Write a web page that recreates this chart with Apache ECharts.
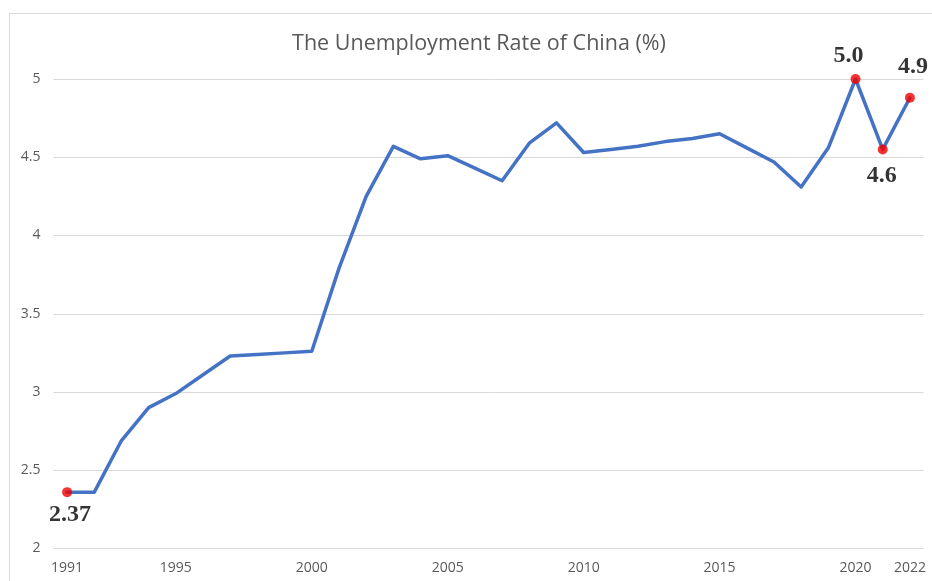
<!DOCTYPE html>
<html>
<head>
<meta charset="utf-8">
<script src="https://cdn.jsdelivr.net/npm/echarts@6/dist/echarts.min.js"></script>
<style>
  html, body { margin: 0; padding: 0; background: #ffffff; }
  #chart { width: 932px; height: 581px; }
</style>
</head>
<body>
<div id="chart"></div>
<script>
// ---- data ----
const years = ['1991','1992','1993','1994','1995','1996','1997','1998','1999','2000',
               '2001','2002','2003','2004','2005','2006','2007','2008','2009','2010',
               '2011','2012','2013','2014','2015','2016','2017','2018','2019','2020',
               '2021','2022'];
const rates = [2.36, 2.36, 2.69, 2.90, 2.99, 3.11, 3.23, 3.24, 3.25, 3.26,
               3.79, 4.25, 4.57, 4.49, 4.51, 4.43, 4.35, 4.59, 4.72, 4.53,
               4.55, 4.57, 4.60, 4.62, 4.65, 4.56, 4.47, 4.31, 4.56, 5.00,
               4.55, 4.88];
const tickYears = ['1991','1995','2000','2005','2010','2015','2020','2022'];
const highlightYears = ['1991','2020','2021','2022'];
const highlightLabels = ['2.37','5.0','4.6','4.9'];
const titleText = 'The Unemployment Rate of China (%)';

// ---- label placement (style) ----
const labelPlacement = {
  '1991': { position: 'bottom', distance: 6, offset: [3, 0] },
  '2020': { position: 'top', distance: 6, offset: [-7, 0] },
  '2021': { position: 'bottom', distance: 9, offset: [-1, 0] },
  '2022': { position: 'top', distance: 14, offset: [3, 0] }
};

const highlightData = highlightYears.map((y, i) => {
  const idx = years.indexOf(y);
  const p = labelPlacement[y];
  return {
    value: [y, rates[idx]],
    label: {
      show: true,
      formatter: highlightLabels[i],
      position: p.position,
      distance: p.distance,
      offset: p.offset
    }
  };
});

const chart = echarts.init(document.getElementById('chart'), null, { renderer: 'canvas' });
chart.setOption({
  animation: false,
  backgroundColor: '#ffffff',
  title: {
    text: titleText,
    left: 474,
    top: 28,
    textAlign: 'center',
    textStyle: {
      fontFamily: 'Open Sans',
      fontSize: 21.5,
      fontWeight: 'normal',
      color: '#595959'
    }
  },
  graphic: [{
    type: 'rect',
    shape: { x: 9.5, y: 13.5, width: 1200, height: 1200 },
    style: { fill: 'none', stroke: '#d9d9d9', lineWidth: 1 },
    silent: true,
    z: -10
  }],
  grid: { left: 53.5, right: 8.5, top: 79, bottom: 32.5 },
  xAxis: {
    type: 'category',
    data: years,
    boundaryGap: true,
    axisLine: { show: false },
    axisTick: { show: false },
    axisLabel: {
      interval: (idx, val) => tickYears.includes(val),
      fontFamily: 'Open Sans',
      fontSize: 14,
      color: '#595959',
      margin: 13
    },
    splitLine: { show: false }
  },
  yAxis: {
    type: 'value',
    min: 2,
    max: 5,
    interval: 0.5,
    axisLine: { show: false },
    axisTick: { show: false },
    axisLabel: {
      fontFamily: 'Open Sans',
      fontSize: 14,
      color: '#595959',
      margin: 13
    },
    splitLine: { show: true, lineStyle: { color: '#d9d9d9', width: 1 } }
  },
  series: [
    {
      type: 'line',
      data: rates,
      symbol: 'none',
      lineStyle: { color: '#4472c4', width: 3.5, join: 'round', cap: 'round' },
      z: 2
    },
    {
      type: 'scatter',
      data: highlightData,
      symbol: 'circle',
      symbolSize: 10,
      itemStyle: { color: '#f00000' },
      label: {
        fontFamily: 'Liberation Serif',
        fontWeight: 'bold',
        fontSize: 24,
        color: '#000000'
      },
      z: 3
    }
  ]
});
</script>
</body>
</html>
